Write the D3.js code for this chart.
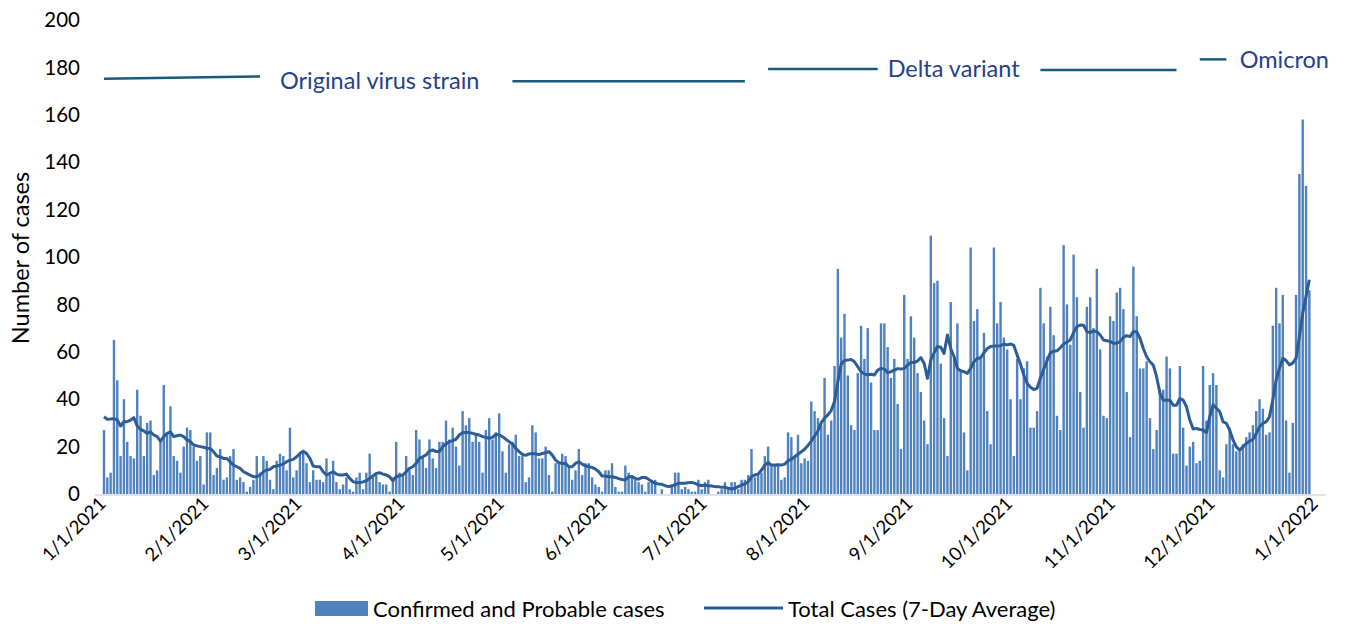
<!DOCTYPE html>
<html>
<head>
<meta charset="utf-8">
<script src="https://cdn.jsdelivr.net/npm/d3@7"></script>
<style>
  body { margin: 0; background: #fff; }
  text { font-family: Lato, "Liberation Sans", sans-serif; }
</style>
</head>
<body>
<svg id="chart" width="1351" height="624"></svg>
<script>
// daily confirmed + probable cases, 2021
const casesJan = [27, 7, 9, 65, 48, 16, 40, 22, 16, 15, 44, 33, 16, 30, 31, 8, 10, 22, 46, 26, 37, 16, 14, 9, 20, 28, 27, 20, 14, 16, 4]
const casesFeb = [26, 26, 8, 11, 19, 6, 7, 16, 19, 6, 7, 5, 1, 3, 6, 16, 9, 16, 14, 6, 2, 14, 17, 16, 10, 28, 7, 10]
const casesMar = [17, 18, 13, 5, 10, 6, 6, 5, 15, 8, 14, 5, 2, 4, 7, 2, 1, 7, 9, 2, 9, 17, 7, 8, 5, 4, 4, 1, 7, 22, 9]
const casesApr = [8, 16, 10, 8, 27, 23, 16, 11, 23, 15, 11, 22, 22, 31, 23, 28, 20, 12, 35, 29, 32, 22, 25, 22, 9, 27, 32, 23, 26, 34]
const casesMay = [18, 9, 21, 22, 25, 16, 16, 5, 7, 29, 26, 15, 15, 20, 8, 1, 13, 13, 17, 16, 11, 6, 10, 19, 8, 13, 13, 7, 4, 3, 1]
const casesJun = [10, 10, 13, 3, 1, 1, 12, 9, 8, 6, 5, 4, 1, 5, 6, 6, 0, 2, 0, 0, 4, 9, 9, 2, 3, 2, 1, 1, 6, 2]
const casesJul = [5, 6, 0, 0, 1, 2, 5, 2, 5, 5, 2, 6, 6, 8, 19, 7, 8, 9, 16, 20, 12, 12, 12, 6, 7, 26, 24, 16, 25, 13, 15]
const casesAug = [14, 39, 35, 32, 29, 49, 25, 31, 54, 95, 66, 76, 50, 29, 27, 51, 71, 57, 70, 47, 27, 27, 72, 72, 62, 49, 57, 38, 19, 84, 57]
const casesSep = [75, 66, 51, 43, 31, 21, 109, 89, 90, 55, 32, 16, 81, 57, 72, 52, 26, 10, 104, 73, 78, 57, 68, 35, 21, 104, 72, 81, 66, 61]
const casesOct = [40, 16, 57, 40, 53, 56, 28, 28, 35, 87, 72, 58, 79, 67, 33, 27, 105, 80, 63, 101, 83, 43, 28, 79, 83, 70, 95, 61, 33, 32, 75]
const casesNov = [73, 85, 87, 78, 43, 24, 96, 75, 53, 53, 56, 32, 19, 27, 44, 44, 58, 53, 17, 17, 54, 28, 12, 20, 22, 13, 14, 54, 31, 46]
const casesDec = [51, 46, 10, 7, 21, 28, 21, 18, 18, 21, 24, 26, 29, 35, 40, 36, 25, 26, 71, 87, 72, 84, 31, 9, 30, 84, 135, 158, 130, 86]

// 7-day average line
const avgJan = [32.6, 31.5, 31.6, 31.8, 31.2, 28.7, 30.5, 30.5, 31.2, 32.2, 28.7, 27.3, 26.6, 25.6, 26.2, 24.9, 24.2, 22.3, 24.2, 25.6, 26.2, 24.2, 24.6, 24.9, 24.2, 22.8, 22.1, 20.7, 20.3, 20.0, 19.7]
const avgFeb = [19.3, 19.2, 17.8, 16.0, 15.7, 15.0, 15.0, 13.6, 12.2, 11.5, 10.8, 9.4, 8.7, 8.0, 7.3, 7.3, 8.0, 9.4, 10.1, 10.4, 11.5, 11.8, 12.2, 12.6, 13.6, 14.3, 14.6, 15.7]
const avgMar = [17.1, 18.1, 17.1, 15.0, 11.8, 11.5, 11.5, 9.4, 8.0, 8.7, 9.4, 8.4, 8.0, 8.0, 8.4, 6.6, 5.2, 4.8, 4.8, 5.1, 5.6, 6.6, 7.6, 8.7, 9.0, 8.4, 8.0, 7.3, 5.6, 7.3, 7.7]
const avgApr = [8.0, 9.4, 10.8, 11.5, 12.9, 15.0, 15.7, 16.5, 18.1, 18.6, 17.9, 17.9, 20.0, 21.1, 22.1, 22.5, 23.1, 24.9, 25.9, 26.0, 25.9, 25.6, 25.2, 24.9, 24.2, 23.9, 23.5, 23.9, 25.2, 24.9]
const avgMay = [24.2, 23.1, 22.1, 21.1, 19.3, 17.9, 16.7, 16.3, 16.9, 17.1, 17.0, 16.6, 17.1, 17.4, 17.9, 16.4, 14.3, 13.2, 12.9, 12.9, 11.5, 11.5, 12.9, 13.6, 12.6, 11.9, 11.5, 11.2, 10.5, 9.4, 7.6]
const avgJun = [7.6, 7.3, 7.3, 7.0, 6.5, 6.1, 5.9, 7.3, 7.3, 6.6, 6.2, 7.0, 7.0, 6.2, 5.2, 4.5, 4.2, 4.1, 3.5, 3.1, 3.4, 3.9, 4.5, 4.5, 4.5, 4.8, 4.9, 4.5, 3.9, 3.5]
const avgJul = [3.8, 3.5, 3.4, 3.1, 3.1, 2.8, 2.8, 2.4, 2.1, 2.4, 3.1, 3.8, 4.2, 5.2, 7.3, 8.0, 8.4, 10.1, 12.2, 13.3, 12.2, 12.2, 12.3, 12.2, 12.6, 14.0, 14.7, 15.7, 16.8, 17.8, 18.9]
const avgAug = [20.5, 22.3, 24.5, 26.6, 30.1, 32.0, 33.4, 35.2, 39.0, 47.4, 54.8, 56.3, 56.5, 56.8, 55.8, 53.7, 51.6, 50.7, 50.3, 50.5, 50.2, 52.3, 53.0, 52.7, 51.2, 51.6, 52.3, 52.9, 52.7, 53.0, 54.4]
const avgSep = [55.5, 55.5, 56.1, 57.6, 55.1, 48.8, 56.5, 59.6, 62.2, 61.9, 59.3, 67.1, 61.4, 57.9, 53.0, 52.0, 51.6, 50.9, 53.0, 55.8, 57.2, 57.5, 59.6, 61.4, 62.2, 62.4, 62.4, 62.6, 63.3, 62.9]
const avgOct = [63.3, 62.7, 58.6, 54.8, 50.2, 46.7, 45.0, 44.1, 44.6, 48.8, 52.6, 56.3, 59.6, 60.2, 60.4, 61.7, 63.3, 64.1, 65.0, 68.1, 70.6, 71.3, 71.2, 68.5, 68.1, 68.8, 68.5, 67.1, 65.0, 64.7, 64.4]
const avgNov = [63.6, 63.6, 64.3, 66.1, 66.8, 66.4, 68.5, 68.5, 65.7, 61.4, 57.9, 55.8, 54.4, 49.5, 42.5, 39.6, 39.6, 39.6, 37.5, 37.5, 40.3, 39.6, 36.8, 31.2, 27.4, 27.7, 27.2, 27.0, 25.9, 32.6]
const avgDec = [37.6, 36.2, 34.8, 30.5, 29.8, 27.0, 22.8, 19.9, 18.5, 19.9, 21.3, 22.3, 23.0, 25.5, 28.4, 29.8, 30.5, 32.6, 39.7, 48.1, 53.1, 57.3, 56.3, 54.5, 55.2, 57.3, 66.4, 76.3, 83.3, 90.4]

// axis labels
const monthLabels = ['1/1/2021', '2/1/2021', '3/1/2021', '4/1/2021', '5/1/2021', '6/1/2021', '7/1/2021',
  '8/1/2021', '9/1/2021', '10/1/2021', '11/1/2021', '12/1/2021', '1/1/2022']
const yTicks = [0, 20, 40, 60, 80, 100, 120, 140, 160, 180, 200]
const seriesNames = ['Confirmed and Probable cases', 'Total Cases (7-Day Average)']
const variantNames = ['Original virus strain', 'Delta variant', 'Omicron']

let cases = [].concat(casesJan, casesFeb, casesMar, casesApr, casesMay, casesJun,
  casesJul, casesAug, casesSep, casesOct, casesNov, casesDec)
let avg7 = [].concat(avgJan, avgFeb, avgMar, avgApr, avgMay, avgJun,
  avgJul, avgAug, avgSep, avgOct, avgNov, avgDec)

let start = new Date(Date.UTC(2021, 0, 1))
let data = cases.map(function(v, i) {
  return { date: d3.utcDay.offset(start, i), cases: v, avg: avg7[i] }
})

let barColor = '#4f81bd'
	lineColor = '#2d5d97'
	noteLine = '#1c5a7d'
	noteText = '#26408c'

let svg = d3.select('#chart')

let x = d3.scaleUtc()
  .domain([start, new Date(Date.UTC(2022, 0, 1))])
  .range([104, 1316])

let y = d3.scaleLinear()
  .domain([0, 200])
  .range([494, 20])

// bars
svg.append('g')
  .selectAll('rect')
  .data(data)
  .enter()
  .append('rect')
  .attr('x', function(d) { return x(d.date) - 1.2 })
  .attr('width', 2.4)
  .attr('y', function(d) { return y(d.cases) })
  .attr('height', function(d) { return y(0) - y(d.cases) })
  .attr('fill', barColor)

// baseline
svg.append('line')
  .attr('x1', 95).attr('x2', 1326)
  .attr('y1', y(0) + 1).attr('y2', y(0) + 1)
  .attr('stroke', '#d9d9d9')
  .attr('stroke-width', 1.5)

// 7-day average
let line = d3.line()
  .x(function(d) { return x(d.date) })
  .y(function(d) { return y(d.avg) })

svg.append('path')
  .datum(data)
  .attr('d', line)
  .attr('fill', 'none')
  .attr('stroke', lineColor)
  .attr('stroke-width', 3)
  .attr('stroke-linejoin', 'round')

// y axis labels
svg.append('g')
  .selectAll('text')
  .data(yTicks)
  .enter()
  .append('text')
  .attr('x', 80)
  .attr('y', function(d) { return y(d) })
  .attr('dy', '0.35em')
  .attr('text-anchor', 'end')
  .attr('font-size', 20.5)
  .attr('fill', '#000')
  .text(function(d) { return d })

svg.append('text')
  .attr('transform', 'translate(29,258) rotate(-90)')
  .attr('text-anchor', 'middle')
  .attr('font-size', 23.5)
  .attr('fill', '#000')
  .text('Number of cases')

// x axis labels, one per month
let monthDates = d3.utcMonth.range(start, new Date(Date.UTC(2022, 0, 2)))
svg.append('g')
  .selectAll('text')
  .data(monthDates)
  .enter()
  .append('text')
  .attr('transform', function(d) { return 'translate(' + (x(d) + 3) + ',505) rotate(-45)' })
  .attr('text-anchor', 'end')
  .attr('font-size', 18.5)
  .attr('fill', '#000')
  .text(function(d, i) { return monthLabels[i] })

// variant annotations: [from day, level, to day, level]
function day(n) { return d3.utcDay.offset(start, n) }
let notePieces = [[0, 175.2, 47.5, 176.2], [123, 174.2, 193, 174.2], [200, 179.3, 233, 179.3],
  [282, 178.9, 323.5, 178.9], [330, 183.4, 338.5, 183.4]]
svg.append('g')
  .selectAll('line')
  .data(notePieces)
  .enter()
  .append('line')
  .attr('x1', function(d) { return x(day(d[0])) })
  .attr('y1', function(d) { return y(d[1]) })
  .attr('x2', function(d) { return x(day(d[2])) })
  .attr('y2', function(d) { return y(d[3]) })
  .attr('stroke', noteLine)
  .attr('stroke-width', 2.5)

let notePos = [[53.9, 174.2], [236.4, 179.3], [342.2, 183.1]]
svg.append('g')
  .selectAll('text')
  .data(notePos)
  .enter()
  .append('text')
  .attr('x', function(d) { return x(day(d[0])) })
  .attr('y', function(d) { return y(d[1]) })
  .attr('dy', '0.35em')
  .attr('font-size', 23.5)
  .attr('fill', noteText)
  .text(function(d, i) { return variantNames[i] })

// legend
let legend = svg.append('g')
legend.append('rect')
  .attr('x', 315).attr('y', 601)
  .attr('width', 53).attr('height', 15)
  .attr('fill', barColor)
legend.append('text')
  .attr('x', 373).attr('y', 609)
  .attr('dy', '0.35em')
  .attr('font-size', 22)
  .text(seriesNames[0])
legend.append('line')
  .attr('x1', 704).attr('x2', 783)
  .attr('y1', 608).attr('y2', 608)
  .attr('stroke', lineColor)
  .attr('stroke-width', 3)
legend.append('text')
  .attr('x', 788).attr('y', 609)
  .attr('dy', '0.35em')
  .attr('font-size', 22)
  .text(seriesNames[1])
</script>
</body>
</html>
